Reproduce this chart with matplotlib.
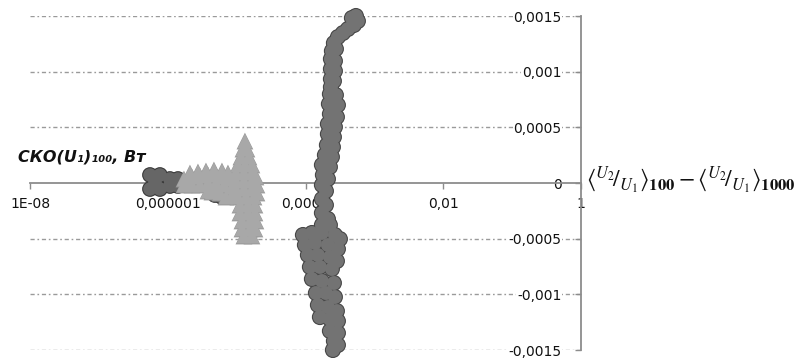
import matplotlib
matplotlib.use("Agg")
import matplotlib.pyplot as plt
import numpy as np

# ---- data ----
xticks = [1e-8, 1e-6, 1e-4, 1e-2, 1]
xtick_labels = ["1E-08", "0,000001", "0,0001", "0,01", "1"]
yticks = [-0.0015, -0.001, -0.0005, 0, 0.0005, 0.001, 0.0015]
ytick_labels = ["-0,0015", "-0,001", "-0,0005", "0", "0,0005", "0,001", "0,0015"]

# series 1: dark cluster near 1e-6
s1_x = [5.52e-7, 7.70e-7, 5.52e-7, 7.70e-7, 6.52e-7, 1.076e-6, 1.406e-6, 1.076e-6,
        1.406e-6, 1.965e-6, 2.934e-6, 4.38e-6, 6.12e-6, 6.12e-6, 4.84e-6, 3.467e-6]
s1_y = [7.2e-5, 7.2e-5, -5.4e-5, -5.4e-5, 9e-6, 3.6e-5, 3.6e-5, -2.7e-5,
        -2.7e-5, 9e-6, 1.8e-5, 3.6e-5, 3.6e-5, -1.26e-4, -1.08e-4, -1.8e-5]

# series 2: light cluster (triangles) 1.7e-6 .. 2e-5
s2_x = [1.718e-6, 1.718e-6, 2.245e-6, 2.245e-6, 2.934e-6, 2.934e-6, 3.833e-6, 3.833e-6,
        3.833e-6, 5.008e-6, 5.008e-6, 5.008e-6, 6.54e-6, 6.54e-6, 8.55e-6, 8.55e-6, 8.55e-6,
        2.10e-6, 2.744e-6, 3.585e-6, 4.68e-6, 6.12e-6, 7.48e-6, 4.38e-6, 5.72e-6, 7.0e-6,
        1.319e-5, 1.234e-5, 1.411e-5, 1.155e-5, 1.508e-5, 1.044e-5, 1.319e-5, 1.667e-5,
        9.77e-6, 1.276e-5, 1.667e-5, 1.905e-5, 9.77e-6, 1.276e-5, 1.667e-5, 1.970e-5,
        9.77e-6, 1.276e-5, 1.667e-5, 1.970e-5, 1.044e-5, 1.365e-5, 1.783e-5,
        1.117e-5, 1.459e-5, 1.843e-5, 1.117e-5, 1.459e-5, 1.843e-5,
        1.194e-5, 1.560e-5, 1.905e-5, 1.194e-5, 1.560e-5, 1.843e-5, 1.276e-5, 1.667e-5]
s2_y = [3.59e-5, -1.8e-5, 5.39e-5, -1.8e-5, 6.29e-5, -1.8e-5, 7.19e-5, 0.0,
        -7.19e-5, 7.19e-5, 0.0, -7.19e-5, 5.39e-5, -1.8e-5, 3.59e-5, -3.59e-5, -1.08e-4,
        8.98e-5, 9.9e-5, 1.08e-4, 1.17e-4, 1.08e-4, 8.98e-5, -8.1e-5, -9.0e-5, -1.26e-4,
        3.77e-4, 3.05e-4, 3.05e-4, 2.34e-4, 2.34e-4, 1.62e-4, 1.62e-4, 1.62e-4,
        8.98e-5, 8.98e-5, 8.98e-5, 5.39e-5, 1.8e-5, 1.8e-5, 1.8e-5, -1.8e-5,
        -5.39e-5, -5.39e-5, -5.39e-5, -8.98e-5, -1.26e-4, -1.26e-4, -1.26e-4,
        -1.98e-4, -1.98e-4, -1.98e-4, -2.69e-4, -2.69e-4, -2.69e-4,
        -3.41e-4, -3.41e-4, -3.41e-4, -4.13e-4, -4.13e-4, -4.13e-4, -4.76e-4, -4.76e-4]

# series 3: dark vertical band around 1e-4 .. 5e-4
s3_x = [5.389e-4, 4.715e-4, 5.761e-4, 5.042e-4, 4.125e-4, 3.490e-4, 2.953e-4, 2.583e-4,
        2.416e-4, 2.761e-4, 2.337e-4, 2.671e-4, 2.337e-4, 2.671e-4, 2.337e-4, 2.583e-4,
        2.337e-4, 2.260e-4, 2.761e-4, 2.185e-4, 2.953e-4, 2.260e-4, 2.855e-4, 2.114e-4,
        2.671e-4, 2.114e-4, 2.583e-4, 2.044e-4, 2.498e-4, 1.912e-4, 2.416e-4, 1.730e-4,
        2.260e-4, 1.788e-4, 2.114e-4, 1.730e-4, 1.977e-4, 1.730e-4, 1.977e-4, 1.730e-4,
        2.114e-4, 1.730e-4, 2.260e-4, 9.17e-5, 1.238e-4, 1.730e-4, 2.671e-4, 3.157e-4,
        9.80e-5, 1.369e-4, 2.114e-4, 2.953e-4, 1.083e-4, 1.514e-4, 2.260e-4, 2.855e-4,
        1.158e-4, 1.618e-4, 2.416e-4, 1.238e-4, 1.730e-4, 2.583e-4, 1.415e-4, 1.977e-4,
        2.671e-4, 1.514e-4, 2.114e-4, 2.855e-4, 1.618e-4, 2.260e-4, 2.953e-4, 2.260e-4,
        2.953e-4, 2.583e-4, 2.953e-4, 2.498e-4]
s3_y = [0.0015, 0.001482, 0.001455, 0.001419, 0.001383, 0.001347, 0.001311, 0.001257,
        0.001186, 0.001204, 0.001114, 0.001096, 0.001024, 0.001006, 0.000934, 0.000916,
        0.000862, 0.000799, 0.00079, 0.00071, 0.0007, 0.00062, 0.000593, 0.00053,
        0.000503, 0.00044, 0.000413, 0.000341, 0.000323, 0.000251, 0.000234, 0.000162,
        0.000144, 0.000072, 0.000036, -0.000018, -0.000072, -0.000144, -0.000198, -0.000269,
        -0.000323, -0.000377, -0.000377, -0.000467, -0.000449, -0.000449, -0.000467, -0.000503,
        -0.000557, -0.000539, -0.000557, -0.000593, -0.000647, -0.000647, -0.000665, -0.000701,
        -0.000754, -0.000754, -0.000772, -0.000862, -0.00088, -0.000898, -0.000988, -0.000988,
        -0.001024, -0.001096, -0.001114, -0.00115, -0.001204, -0.001222, -0.00124, -0.001329,
        -0.001347, -0.001419, -0.001455, -0.0015]

# ---- figure ----
fig = plt.figure(figsize=(8.0, 3.58), dpi=100)
ax = fig.add_axes([0.0375, 0.0223, 0.6888, 0.9330])

ax.set_xscale("log")
ax.set_xlim(1e-8, 1)
ax.set_ylim(-0.0015, 0.0015)

grid_c = "#9a9a9a"
for yv in yticks:
    if yv != 0:
        ax.axhline(yv, color=grid_c, lw=1.0, ls=(0, (3, 2, 1.2, 2)), zorder=0)

for sp in ["left", "top"]:
    ax.spines[sp].set_visible(False)
ax.spines["bottom"].set_position(("data", 0))
ax.spines["bottom"].set_color("#8c8c8c")
ax.spines["bottom"].set_linewidth(1.3)
ax.spines["right"].set_color("#8c8c8c")
ax.spines["right"].set_linewidth(1.3)

ax.set_xticks(xticks)
ax.set_xticklabels(xtick_labels)
ax.xaxis.set_minor_locator(matplotlib.ticker.NullLocator())
ax.tick_params(axis="x", direction="out", length=4, width=1, color="#8c8c8c",
               pad=6, labelsize=10, labelcolor="#111111")

ax.yaxis.tick_right()
ax.set_yticks(yticks)
ax.set_yticklabels(ytick_labels)
ax.tick_params(axis="y", direction="in", length=4, width=1, color="#8c8c8c",
               pad=-14, labelsize=10, labelcolor="#111111")
for lbl in ax.get_yticklabels():
    lbl.set_horizontalalignment("right")
    lbl.set_bbox(dict(facecolor="white", edgecolor="none", pad=0.6))


def blob(xs, ys, s, marker, fill, edge, z):
    d = np.sqrt(s)
    ax.scatter(xs, ys, s=(d + 1.6) ** 2, marker=marker, facecolor=edge,
               edgecolor="none", zorder=z, clip_on=False)
    ax.scatter(xs, ys, s=s, marker=marker, facecolor=fill,
               edgecolor="none", zorder=z + 0.5, clip_on=False)


blob(s1_x, s1_y, 95, "o", "#666666", "#3a3a3a", 3)
blob(s2_x, s2_y, 110, "^", "#a8a8a8", "#9a9a9a", 4)
blob(s3_x, s3_y, 100, "o", "#737373", "#474747", 5)

# axis titles
fig.text(18 / 800, 1 - 157 / 358, "СКО(U₁)₁₀₀, Вт", fontsize=11.5, fontweight="bold",
         fontstyle="italic", color="#111111", ha="left", va="center")
fig.text(586 / 800, 1 - 180 / 358,
         r"$\left\langle {}^{U_2}\!/_{U_1} \right\rangle_{\mathbf{100}} - "
         r"\left\langle {}^{U_2}\!/_{U_1} \right\rangle_{\mathbf{1000}}$",
         fontsize=17, color="#111111", ha="left", va="center",
         math_fontfamily="stix")

fig.savefig("out.png", dpi=100, facecolor="white")
